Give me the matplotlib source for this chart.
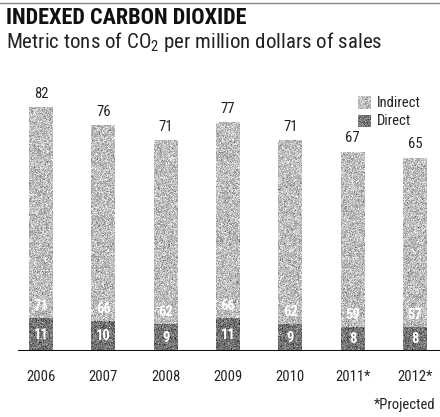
import numpy as np
import matplotlib
matplotlib.use("Agg")
import matplotlib.pyplot as plt

plt.rcParams['font.family'] = ['Roboto Condensed', 'DejaVu Sans']
plt.rcParams['mathtext.default'] = 'regular'

years = ['2006', '2007', '2008', '2009', '2010', '2011*', '2012*']
direct = [11, 10, 9, 11, 9, 8, 8]
indirect = [71, 66, 62, 66, 62, 59, 57]

W, H = 440, 417
fig = plt.figure(figsize=(W / 100, H / 100), dpi=100)

# axes placed in pixel terms: baseline at y=351, 2.96 px per ton
base_px = 351
ppu = 2.96
ax_left, ax_right = 18, 440
ymax = 90
ax = fig.add_axes([ax_left / W, (H - base_px) / H, (ax_right - ax_left) / W, ymax * ppu / H])

spacing = 62.33
first = 41
xlim = (-(first - ax_left) / spacing, (ax_right - first) / spacing)
bw = 24 / spacing

rng = np.random.default_rng(3)


def speckle(ny, nx, mean):
    # grainy screen-print fill
    return np.clip(rng.normal(mean, 0.11, (ny, nx)), 0, 1)


def speckle_bar(x, y0, h, mean):
    ny = max(int(h * ppu), 2)
    ax.imshow(speckle(ny, 24, mean), extent=(x - bw / 2, x + bw / 2, y0, y0 + h), cmap='gray',
              vmin=0, vmax=1, aspect='auto', interpolation='nearest', zorder=2)


for i, (d, ind) in enumerate(zip(direct, indirect)):
    speckle_bar(i, 0, d, 0.45)
    speckle_bar(i, d, ind, 0.74)
    total = d + ind
    ax.text(i, d / 2, str(d), ha='center', va='center', color='white',
            fontsize=10.5, fontweight='bold', zorder=3)
    ax.text(i, d + 4.3, str(ind), ha='center', va='center', color='white',
            fontsize=10.5, fontweight='bold', zorder=3)
    ax.text(i, total + 4.8, str(total), ha='center', va='center', color='#222222',
            fontsize=10.5, zorder=3)

ax.set_xlim(*xlim)
ax.set_ylim(0, ymax)
ax.axis('off')
ax.axhline(0, color='#111111', lw=2.2, zorder=4)

for i, yr in enumerate(years):
    ax.text(i, -26 / ppu, yr, ha='center', va='center', fontsize=10.5, color='#222222')

# header
fig.add_artist(plt.Line2D([0, 1], [1 - 2.5 / H, 1 - 2.5 / H], color='#888888', lw=1))
fig.text(6 / W, 1 - 18 / H, 'INDEXED CARBON DIOXIDE', fontsize=16, fontweight='bold',
         va='center', ha='left', color='#111111')
fig.text(6 / W, 1 - 42 / H, 'Metric tons of CO$_2$ per million dollars of sales', fontsize=15,
         va='center', ha='left', color='#222222')

# legend
for lab, yc, mean in [('Indirect', 103, 0.74), ('Direct', 121, 0.45)]:
    lax = fig.add_axes([358 / W, 1 - (yc + 6.5) / H, 13 / W, 13 / H])
    lax.imshow(speckle(13, 13, mean), cmap='gray', vmin=0, vmax=1,
               interpolation='nearest', aspect='auto')
    lax.axis('off')
    fig.text(377 / W, 1 - yc / H, lab, fontsize=10.5, va='center', ha='left', color='#222222')

fig.text(435 / W, 1 - 405 / H, '*Projected', fontsize=10.5, va='center', ha='right', color='#222222')

fig.savefig('out.png', dpi=100)
